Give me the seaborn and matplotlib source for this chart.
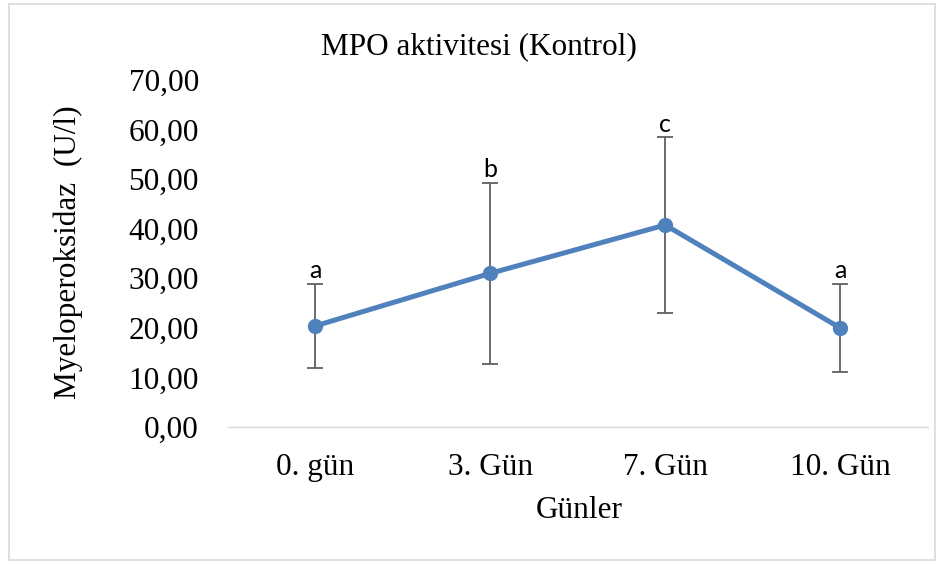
import matplotlib
matplotlib.use("Agg")
import matplotlib.pyplot as plt
import seaborn as sns
import pandas as pd
from matplotlib.patches import Rectangle
from matplotlib.ticker import FuncFormatter

categories = ["0. gün", "3. Gün", "7. Gün", "10. Gün"]
means = [20.4, 31.0, 40.75, 20.0]
sds = [8.45, 18.25, 17.75, 8.9]
letters = ["a", "b", "c", "a"]
yticks = [0, 10, 20, 30, 40, 50, 60, 70]

df = pd.DataFrame({"Günler": categories, "MPO": means})

sns.set_theme(style="white")
plt.rcParams["font.family"] = ["Liberation Serif", "DejaVu Serif"]
plt.rcParams["text.color"] = "black"
plt.rcParams["xtick.color"] = "black"
plt.rcParams["ytick.color"] = "black"
plt.rcParams["axes.labelcolor"] = "black"

fig = plt.figure(figsize=(9.46, 5.71), dpi=100)
ax = fig.add_axes([228/946, 1-427/571, (927.5-228)/946, (427-80)/571])

blue = "#4F81BD"
ax.errorbar(categories, means, yerr=sds, fmt="none", ecolor="#606060",
            elinewidth=1.3, capsize=6, capthick=1.3, zorder=1)
sns.lineplot(data=df, x="Günler", y="MPO", ax=ax, color=blue, linewidth=3.6,
             marker="o", markersize=11, markeredgewidth=0, sort=False, zorder=3)

for i, (m, s, l) in enumerate(zip(means, sds, letters)):
    ax.text(i, m + s + 0.3, l, ha="center", va="bottom", fontsize=18,
            family=["Lato", "DejaVu Sans"], color="black")

ax.set_xlim(-0.5, 3.5)
ax.set_ylim(0, 70)
ax.set_yticks(yticks)
ax.yaxis.set_major_formatter(FuncFormatter(lambda v, p: f"{v:.2f}".replace(".", ",")))
ax.tick_params(axis="y", length=0, pad=21, labelsize=22.5, labelcolor="black")
ax.tick_params(axis="x", length=0, pad=19, labelsize=22.5, labelcolor="black")
for sp in ["top", "right", "left"]:
    ax.spines[sp].set_visible(False)
ax.spines["bottom"].set_color("#d9d9d9")
ax.spines["bottom"].set_linewidth(1.0)
ax.grid(False)
ax.set_xlabel("")
ax.set_ylabel("")

fig.text(68/946, 1-252/571, "Myeloperoksidaz  (U/l)", rotation=90, ha="center", va="center", fontsize=22.5)
fig.text(579/946, 1-510/571, "Günler", ha="center", va="center", fontsize=22.5)
fig.text(479/946, 1-47/571, "MPO aktivitesi (Kontrol)", ha="center", va="center", fontsize=22.5)

fig.patches.append(Rectangle((9/946, 1-560/571), (935-9)/946, (560-4)/571,
                             transform=fig.transFigure, fill=False,
                             edgecolor="#d9d9d9", linewidth=1.2))

fig.savefig("out.png", dpi=100)
